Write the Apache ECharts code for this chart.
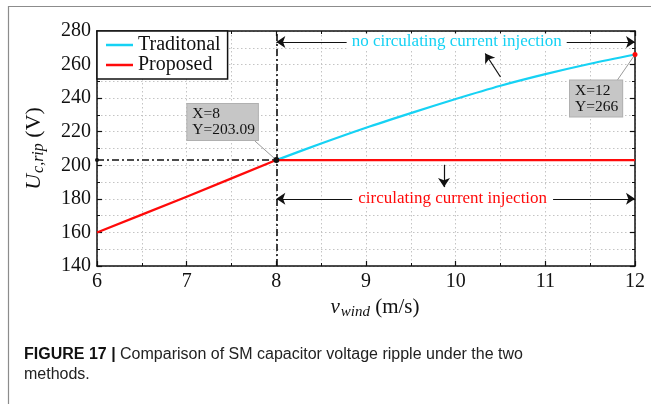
<!DOCTYPE html>
<html>
<head>
<meta charset="utf-8">
<script src="https://cdn.jsdelivr.net/npm/echarts@6/dist/echarts.min.js"></script>
<style>
  html, body { margin: 0; padding: 0; background: #fff; }
  #chart { width: 651px; height: 404px; }
</style>
</head>
<body>
<div id="chart"></div>
<script>
// Wind speed (m/s) against SM capacitor voltage ripple (V)
const xTicks = [6, 7, 8, 9, 10, 11, 12];
const yTicks = [140, 160, 180, 200, 220, 240, 260, 280];

const traditionalX = [8, 8.5, 9, 9.5, 10, 10.5, 11, 11.5, 12];
const traditionalY = [203.09, 213, 222.4, 231.1, 239.5, 247.4, 254.3, 260.5, 266];

const proposedX = [6, 6.5, 7, 7.5, 8, 9, 10, 11, 12];
const proposedY = [160, 170.6, 181.3, 192.2, 203.09, 203.09, 203.09, 203.09, 203.09];

const crossPoint = [8, 203.09];
const endPoint = [12, 266];

const seriesNames = ['Traditonal', 'Proposed'];
const noInjectionText = 'no circulating current injection';
const injectionText = 'circulating current injection';
const captionBold = 'FIGURE 17 |';
const captionLines = ['Comparison of SM capacitor voltage ripple under the two', 'methods.'];

const CYAN = '#16d2f4';
const RED = '#ff0a0a';
const INK = '#111';
const SERIF = '"Liberation Serif", "Times New Roman", serif';
const SANS = '"Liberation Sans", Arial, sans-serif';
const GRID = '#c4c4c4';

const zip = (xs, ys) => xs.map((x, i) => [x, ys[i]]);

const chart = echarts.init(document.getElementById('chart'), null, { renderer: 'canvas' });

function axisBase(extra) {
  return Object.assign({
    type: 'value',
    axisLine: { show: true, onZero: false, lineStyle: { color: INK, width: 1.5 } },
    axisTick: { show: true, inside: true, length: 5, lineStyle: { color: INK, width: 1.2 } },
    minorTick: { show: true, splitNumber: 2, length: 3, lineStyle: { color: INK, width: 1 } },
    splitLine: { show: false },
    minorSplitLine: { show: false },
    axisLabel: { show: false }
  }, extra);
}

const gridLines = { show: true, lineStyle: { color: GRID, type: [1.5, 2.5], width: 1 } };

const option = {
  animation: false,
  backgroundColor: '#fff',
  grid: { left: 97, right: 16, top: 31, bottom: 138, containLabel: false },
  legend: {
    data: seriesNames,
    orient: 'vertical',
    left: 97, top: 31,
    icon: 'rect',
    itemWidth: 27, itemHeight: 2.5, itemGap: 0,
    padding: [4, 7, 4, 9],
    borderColor: INK, borderWidth: 1.5,
    backgroundColor: '#fff',
    textStyle: { fontFamily: SERIF, fontSize: 20, color: INK, lineHeight: 19 },
    z: 10
  },
  xAxis: [
    axisBase({
      position: 'bottom', min: xTicks[0], max: xTicks[xTicks.length - 1], interval: 1,
      splitLine: gridLines, minorSplitLine: gridLines,
      axisLabel: { show: true, fontFamily: SERIF, fontSize: 20, color: INK, margin: 6 },
      name: '{i|v}{s|wind}{n| (m/s)}',
      nameLocation: 'middle', nameGap: 26,
      nameTextStyle: {
        padding: [0, 0, 0, 18],
        rich: {
          i: { fontFamily: SERIF, fontSize: 21, fontStyle: 'italic', color: INK },
          s: { fontFamily: SERIF, fontSize: 15, fontStyle: 'italic', color: INK, padding: [9, 0, 0, 1] },
          n: { fontFamily: SERIF, fontSize: 21, color: INK }
        }
      }
    }),
    axisBase({ position: 'top', min: xTicks[0], max: xTicks[xTicks.length - 1], interval: 1 })
  ],
  yAxis: [
    axisBase({
      position: 'left', min: yTicks[0], max: yTicks[yTicks.length - 1], interval: 20,
      splitLine: gridLines, minorSplitLine: gridLines,
      axisLabel: { show: true, fontFamily: SERIF, fontSize: 20, color: INK, margin: 6 },
      name: '{i|U}{s|c,rip}{n| (V)}',
      nameLocation: 'middle', nameRotate: 90, nameGap: 50,
      nameTextStyle: {
        rich: {
          i: { fontFamily: SERIF, fontSize: 22, fontStyle: 'italic', color: INK },
          s: { fontFamily: SERIF, fontSize: 16, fontStyle: 'italic', color: INK, padding: [10, 0, 0, 1] },
          n: { fontFamily: SERIF, fontSize: 22, color: INK }
        }
      }
    }),
    axisBase({ position: 'right', min: yTicks[0], max: yTicks[yTicks.length - 1], interval: 20 })
  ],
  series: [
    {
      name: seriesNames[0],
      type: 'line',
      data: zip(traditionalX, traditionalY),
      showSymbol: false,
      smooth: 0.3,
      lineStyle: { color: CYAN, width: 2.2 },
      itemStyle: { color: CYAN },
      z: 3
    },
    {
      name: seriesNames[1],
      type: 'line',
      data: zip(proposedX, proposedY),
      showSymbol: false,
      lineStyle: { color: RED, width: 2.2 },
      itemStyle: { color: RED },
      z: 4,
      markLine: {
        silent: true,
        animation: false,
        z: 4,
        symbol: 'none',
        label: { show: false },
        data: [
          // dash-dot guides through the crossover point
          [{ coord: [crossPoint[0], yTicks[0]], lineStyle: { color: INK, width: 1.6, type: [7, 3, 2, 3] } },
           { coord: [crossPoint[0], yTicks[yTicks.length - 1]] }],
          [{ coord: [xTicks[0], crossPoint[1]], lineStyle: { color: INK, width: 1.6, type: [7, 3, 2, 3] } },
           { coord: crossPoint }],
          // range arrows
          [{ coord: [crossPoint[0], 273.5], symbol: 'arrow', symbolSize: 9, lineStyle: { color: INK, width: 1.2, type: 'solid' } },
           { coord: [endPoint[0], 273.5], symbol: 'arrow', symbolSize: 9 }],
          [{ coord: [crossPoint[0], 180], symbol: 'arrow', symbolSize: 9, lineStyle: { color: INK, width: 1.2, type: 'solid' } },
           { coord: [endPoint[0], 180], symbol: 'arrow', symbolSize: 9 }],
          // pointers to each curve
          [{ coord: [10.5, 252.6], symbol: 'none', lineStyle: { color: INK, width: 1.2, type: 'solid' } },
           { coord: [10.33, 266.6], symbol: 'arrow', symbolSize: 9 }],
          [{ coord: [9.87, 200.3], symbol: 'none', lineStyle: { color: INK, width: 1.2, type: 'solid' } },
           { coord: [9.87, 187], symbol: 'arrow', symbolSize: 9 }],
          // callout leaders
          [{ coord: [7.76, 214.5], symbol: 'none', lineStyle: { color: '#9a9a9a', width: 1, type: 'solid' } },
           { coord: crossPoint }],
          [{ coord: [11.8, 250.5], symbol: 'none', lineStyle: { color: '#9a9a9a', width: 1, type: 'solid' } },
           { coord: endPoint }]
        ]
      },
      markPoint: {
        silent: true,
        animation: false,
        z: 8,
        data: [
          { coord: crossPoint, symbol: 'circle', symbolSize: 6, itemStyle: { color: INK }, label: { show: false } },
          { coord: [xTicks[0], crossPoint[1]], symbol: 'circle', symbolSize: 4, itemStyle: { color: INK }, label: { show: false } },
          { coord: endPoint, symbol: 'circle', symbolSize: 5, itemStyle: { color: RED }, label: { show: false } },
          {
            coord: crossPoint, symbol: 'circle', symbolSize: 1, itemStyle: { color: 'rgba(0,0,0,0)' },
            label: {
              show: true, position: 'inside', align: 'left', verticalAlign: 'middle', offset: [-89, -38],
              formatter: 'X=' + crossPoint[0] + '\nY=' + crossPoint[1].toFixed(2),
              fontFamily: SERIF, fontSize: 15.5, lineHeight: 16, color: INK,
              backgroundColor: '#c6c6c6', borderColor: '#b0b0b0', borderWidth: 1, padding: [2, 3, 2, 5]
            }
          },
          {
            coord: endPoint, symbol: 'circle', symbolSize: 1, itemStyle: { color: 'rgba(0,0,0,0)' },
            label: {
              show: true, position: 'inside', align: 'left', verticalAlign: 'middle', offset: [-65, 44],
              formatter: 'X=' + endPoint[0] + '\nY=' + endPoint[1],
              fontFamily: SERIF, fontSize: 15.5, lineHeight: 16, color: INK,
              backgroundColor: '#c6c6c6', borderColor: '#b0b0b0', borderWidth: 1, padding: [2, 4, 2, 5]
            }
          },
          {
            coord: [10, 273.5], symbol: 'circle', symbolSize: 1, itemStyle: { color: 'rgba(0,0,0,0)' },
            label: {
              show: true, position: 'inside', offset: [1, 0], formatter: noInjectionText,
              fontFamily: SERIF, fontSize: 17, color: CYAN, backgroundColor: '#fff', padding: [0, 5]
            }
          },
          {
            coord: [10, 180], symbol: 'circle', symbolSize: 1, itemStyle: { color: 'rgba(0,0,0,0)' },
            label: {
              show: true, position: 'inside', offset: [-3, 0], formatter: injectionText,
              fontFamily: SERIF, fontSize: 17, color: RED, backgroundColor: '#fff', padding: [0, 6]
            }
          }
        ]
      }
    }
  ],
  graphic: [
    {
      type: 'rect', silent: true, z: -10,
      shape: { x: 8.5, y: 6.5, width: 700, height: 500 },
      style: { fill: 'transparent', stroke: '#8c8c8c', lineWidth: 1.2 }
    },
    {
      type: 'text', silent: true, left: 24, top: 345,
      style: {
        text: '{b|' + captionBold + '} ' + captionLines.join('\n'),
        fontFamily: SANS,
        fontSize: 16, lineHeight: 20, fill: '#222',
        rich: { b: { fontWeight: 'bold', fontSize: 16, fontFamily: SANS, fill: '#111' } }
      }
    }
  ]
};

chart.setOption(option);
</script>
</body>
</html>
